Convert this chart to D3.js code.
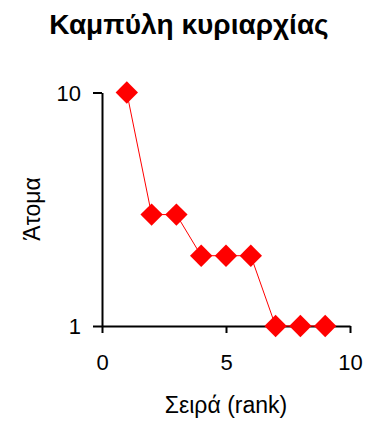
<!DOCTYPE html>
<html>
<head>
<meta charset="utf-8">
<script src="https://cdn.jsdelivr.net/npm/d3@7"></script>
<style>
  body { margin: 0; background: #fff; }
  text { font-family: "Liberation Sans", Arial, sans-serif; fill: #000; }
</style>
</head>
<body>
<div id="chart"></div>
<script>
var ranks = [1, 2, 3, 4, 5, 6, 7, 8, 9];
var counts = [10, 3, 3, 2, 2, 2, 1, 1, 1];
var xTicks = [0, 5, 10];
var yTicks = [1, 10];

function drawChart() {
    var W = 368, H = 424;
    var svg = d3.select('#chart').append('svg')
        .attr('width', W)
        .attr('height', H);

    var x = d3.scaleLinear().domain([0, 10]).range([102, 350]);
    var y = d3.scaleLog().domain([1, 10]).range([326, 92.5]);

    // title
    svg.append('text')
        .attr('x', 189).attr('y', 34)
        .attr('text-anchor', 'middle')
        .style('font-size', '28px')
        .style('font-weight', 'bold')
        .text('Καμπύλη κυριαρχίας');

    var xAxis = svg.append('g')
        .attr('transform', 'translate(0,' + y(1) + ')')
        .call(d3.axisBottom(x).tickValues(xTicks).tickSize(7).tickPadding(21).tickSizeOuter(0));

    var yAxis = svg.append('g')
        .attr('transform', 'translate(' + x(0) + ',0)')
        .call(d3.axisLeft(y).tickValues(yTicks).tickFormat(d3.format('d')).tickSize(9).tickPadding(12).tickSizeOuter(0));

    [xAxis, yAxis].forEach(function(g) {
        g.selectAll('path, line').attr('stroke', '#000').attr('stroke-width', 2);
        g.selectAll('text').style('font-size', '22px').style('font-family', '"Liberation Sans", Arial, sans-serif');
    });
    yAxis.selectAll('text').attr('dy', '0.35em');

    // axis titles
    svg.append('text')
        .attr('x', x(5)).attr('y', 413)
        .attr('text-anchor', 'middle')
        .style('font-size', '23px')
        .text('Σειρά (rank)');

    svg.append('text')
        .attr('transform', 'translate(40,' + 209 + ') rotate(-90)')
        .attr('text-anchor', 'middle')
        .style('font-size', '23px')
        .text('Άτομα');

    var pts = ranks.map(function(r, i) { return [r, counts[i]]; });

    svg.append('path')
        .datum(pts)
        .attr('fill', 'none')
        .attr('stroke', '#ff0000')
        .attr('stroke-width', 1)
        .attr('d', d3.line().x(function(d) { return x(d[0]); }).y(function(d) { return y(d[1]); }));

    var diamond = d3.symbol().type(d3.symbolSquare).size(250);
    svg.selectAll('.pt')
        .data(pts)
        .enter().append('path')
        .attr('class', 'pt')
        .attr('fill', '#ff0000')
        .attr('d', diamond)
        .attr('transform', function(d) {
            return 'translate(' + x(d[0]) + ',' + y(d[1]) + ') rotate(45)';
        });
}

document.addEventListener('DOMContentLoaded', drawChart);
</script>
</body>
</html>
